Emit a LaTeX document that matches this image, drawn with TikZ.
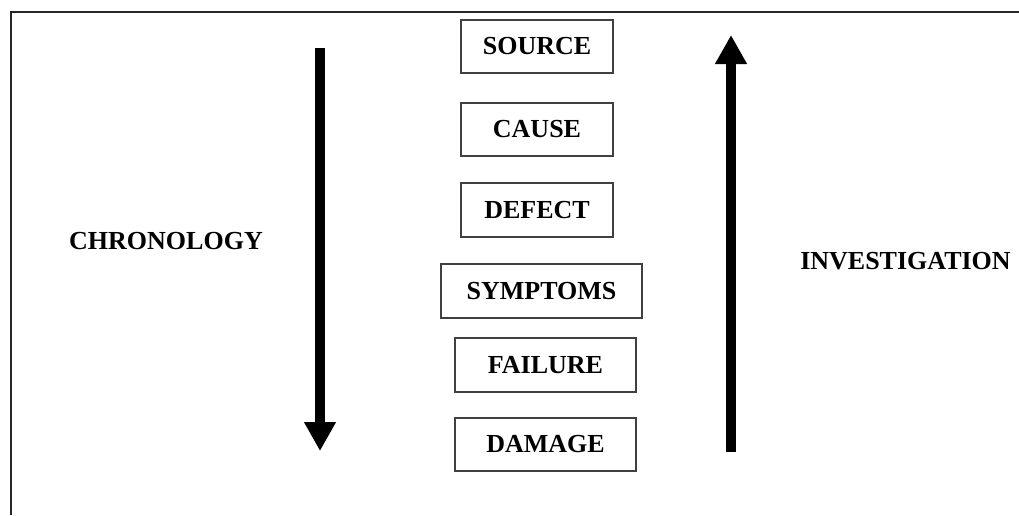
\documentclass[tikz,border=0pt]{standalone}
\usepackage{fontspec}
\setmainfont{Liberation Serif}
\usetikzlibrary{arrows.meta}
\begin{document}
\begin{tikzpicture}[x=1pt,y=-1pt,
  stage/.style={draw=black!75, line width=1.2pt, minimum height=53pt, inner sep=0pt,
    font=\fontsize{26}{30}\selectfont\bfseries},
  lbl/.style={inner sep=0pt, font=\fontsize{26}{30}\selectfont\bfseries},
  bigarrow/.style={line width=10pt, -{Triangle[width=30pt,length=29pt]}}]
\useasboundingbox (0,0) rectangle (1019,515);
\fill[white] (0,0) rectangle (1019,515);
\draw[line width=1.6pt, black!85] (11,515) -- (11,12) -- (1019,12);
\node[stage, minimum width=152pt] (source) at (537,46.5) {SOURCE};
\node[stage, minimum width=152pt] (cause) at (537,129.5) {CAUSE};
\node[stage, minimum width=152pt, minimum height=54pt] (defect) at (537,210) {DEFECT};
\node[stage, minimum width=201pt, minimum height=54pt] (symptoms) at (541.5,291) {SYMPTOMS};
\node[stage, minimum width=181pt, minimum height=54pt] (failure) at (545.5,365) {FAILURE};
\node[stage, minimum width=181pt] (damage) at (545.5,444.5) {DAMAGE};
\node[lbl] (chron) at (166,241.5) {CHRONOLOGY};
\node[lbl] (invest) at (905.5,261.5) {INVESTIGATION};
\coordinate (chtop) at (320,48);
\coordinate (chbot) at (320,451);
\coordinate (invbot) at (731,452);
\coordinate (invtop) at (731,35);
\draw[bigarrow] (chtop) -- (chbot);
\draw[bigarrow] (invbot) -- (invtop);
\end{tikzpicture}
\end{document}
